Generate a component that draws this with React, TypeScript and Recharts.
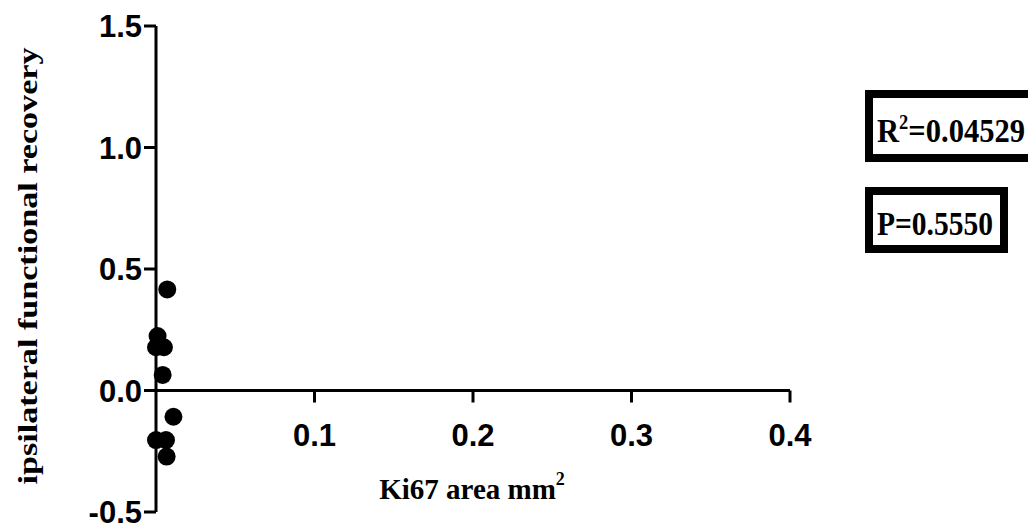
import { ReferenceLine, Scatter, ScatterChart, XAxis, YAxis } from "recharts";

// Ki67 area (mm²) vs ipsilateral functional recovery, one dot per animal
const kiArea = [0.0071, 0.001, 0.0, 0.005, 0.0042, 0.011, 0.0, 0.0063, 0.0067];
const recovery = [0.416, 0.224, 0.178, 0.178, 0.064, -0.108, -0.204, -0.204, -0.272];
const xTicks = [0.1, 0.2, 0.3, 0.4];
const yTicks = [-0.5, 0, 0.5, 1, 1.5];
const rSquared = "0.04529";
const pValue = "0.5550";

const points = kiArea.map((x, i) => ({ x, y: recovery[i] }));

const INK = "#000";
const SANS = "'Liberation Sans', Arial, sans-serif";
const SERIF = "'Liberation Serif', 'Times New Roman', serif";

function Dot(props: { cx?: number; cy?: number }) {
	return <circle cx={props.cx} cy={props.cy} r={9} fill={INK} />;
}

function XTick({ x1, y1, value }: { x1?: number; y1?: number; value: number }) {
	if (x1 == null || y1 == null) return null;
	return (
		<g>
			<line x1={x1} y1={y1} x2={x1} y2={y1 + 12} stroke={INK} strokeWidth={3} />
			<text
				x={x1}
				y={y1 + 55}
				textAnchor="middle"
				fill={INK}
				fontFamily={SANS}
				fontWeight="bold"
				fontSize={31}
			>
				{value.toFixed(1)}
			</text>
		</g>
	);
}

function YTitle({ viewBox }: { viewBox?: { y: number; height: number } }) {
	const cy = viewBox ? viewBox.y + viewBox.height / 2 - 3 : 266;
	return (
		<text
			x={37}
			y={cy}
			transform={`rotate(-90, 37, ${cy})`}
			textAnchor="middle"
			fill={INK}
			fontFamily={SERIF}
			fontWeight="bold"
			fontSize={27}
			textLength={437}
			lengthAdjust="spacingAndGlyphs"
		>
			ipsilateral functional recovery
		</text>
	);
}

export default function App() {
	return (
		<div
			style={{
				position: "absolute",
				left: 0,
				top: 0,
				width: 1028,
				height: 527,
				background: "#fff",
			}}
		>
			<ScatterChart
				width={1028}
				height={527}
				margin={{ top: 26, right: 238, bottom: 15, left: 0 }}
			>
				<XAxis type="number" dataKey="x" domain={[0, 0.4]} hide />
				<YAxis
					type="number"
					dataKey="y"
					domain={[-0.5, 1.5]}
					ticks={yTicks}
					width={156}
					interval={0}
					tickFormatter={(v: number) => v.toFixed(1)}
					axisLine={{ stroke: INK, strokeWidth: 3 }}
					tickLine={{ stroke: INK, strokeWidth: 3 }}
					tickSize={12}
					tick={{ fill: INK, fontSize: 31, fontWeight: "bold", fontFamily: SANS }}
					label={<YTitle />}
				/>
				<ReferenceLine y={0} stroke={INK} strokeWidth={3} />
				{xTicks.map((t) => (
					<ReferenceLine
						key={t}
						segment={[
							{ x: t, y: 0 },
							{ x: t, y: 0 },
						]}
						shape={(p: { x1?: number; y1?: number }) => (
							<XTick x1={p.x1} y1={p.y1} value={t} />
						)}
					/>
				))}
				<Scatter data={points} fill={INK} shape={<Dot />} isAnimationActive={false} />
			</ScatterChart>
			<svg
				width={1028}
				height={527}
				style={{ position: "absolute", left: 0, top: 0, pointerEvents: "none" }}
			>
				<text
					x={472}
					y={499}
					textAnchor="middle"
					fill={INK}
					fontFamily={SERIF}
					fontWeight="bold"
					fontSize={29}
				>
					Ki67 area mm
					<tspan fontSize={18} dy={-14}>
						2
					</tspan>
				</text>
				<rect x={869} y={94} width={180} height={64} fill="#fff" stroke={INK} strokeWidth={8} />
				<text
					x={877}
					y={142}
					fill={INK}
					fontFamily={SERIF}
					fontWeight="bold"
					fontSize={33}
					textLength={148}
					lengthAdjust="spacingAndGlyphs"
				>
					R<tspan fontSize={20} dy={-13}>2</tspan>
					<tspan dy={13}>={rSquared}</tspan>
				</text>
				<rect x={869} y={191} width={135} height={58} fill="#fff" stroke={INK} strokeWidth={8} />
				<text
					x={877}
					y={235}
					fill={INK}
					fontFamily={SERIF}
					fontWeight="bold"
					fontSize={33}
					textLength={116}
					lengthAdjust="spacingAndGlyphs"
				>
					P={pValue}
				</text>
			</svg>
		</div>
	);
}
